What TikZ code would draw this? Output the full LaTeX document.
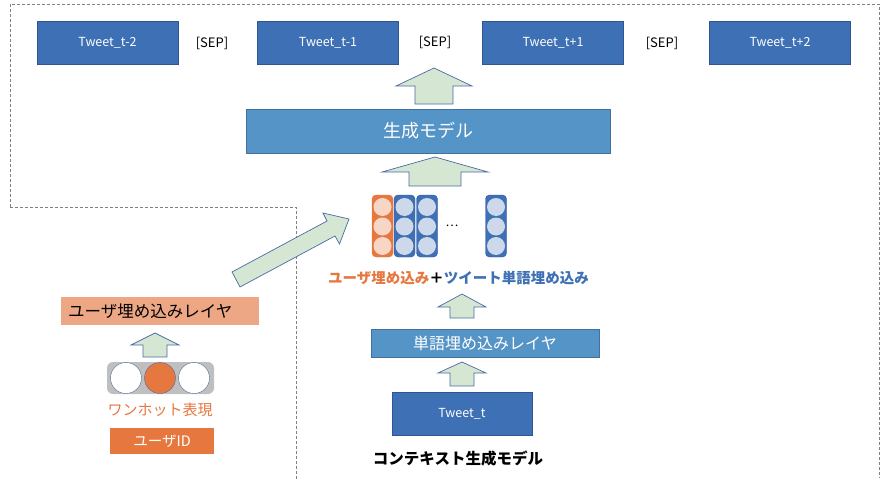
\documentclass[tikz,border=0pt]{standalone}
\usepackage{fontspec}
\setmainfont{Noto Sans CJK JP}
\usepackage{xcolor}
\usepackage{tikz}
\usetikzlibrary{positioning}
\definecolor{cTweet}{HTML}{3E70B5}
\definecolor{cTweetLine}{HTML}{2F5597}
\definecolor{cModel}{HTML}{5594C6}
\definecolor{cModelLine}{HTML}{41719C}
\definecolor{cArrow}{HTML}{D5E6D2}
\definecolor{cArrowLine}{HTML}{4A6AA5}
\definecolor{cOrange}{HTML}{E6773F}
\definecolor{cSalmon}{HTML}{EDA785}
\definecolor{cPale}{HTML}{F8D6C6}
\definecolor{cDot}{HTML}{CDD8EB}
\definecolor{cGray}{HTML}{BFBFBF}
\definecolor{cFrame}{HTML}{808080}
\tikzset{
  tweetbox/.style={draw=cTweetLine, fill=cTweet, text=white, line width=0.6pt,
    minimum width=141pt, minimum height=43pt, inner sep=0pt, font=\fontsize{12.5}{14}\selectfont},
  modelbox/.style={draw=cModelLine, fill=cModel, text=white, line width=0.6pt, inner sep=0pt},
  blkarrow/.style={draw=cArrowLine, fill=cArrow, line width=0.7pt, line join=miter},
  seplabel/.style={font=\fontsize{13}{15}\selectfont, inner sep=0pt},
  frameline/.style={draw=cFrame, line width=0.8pt, dash pattern=on 3pt off 2pt}
}
% block arrow pointing up: x, bottom, head base, tip, shaft half, head half
\newcommand{\uparr}[6]{\draw[blkarrow] (#1-#5,#2) -- (#1-#5,#3) -- (#1-#6,#3) -- (#1,#4)
  -- (#1+#6,#3) -- (#1+#5,#3) -- (#1+#5,#2) -- cycle;}

\begin{document}
\begin{tikzpicture}[x=1pt, y=-1pt]
  \useasboundingbox (0,0) rectangle (887,479);
  % dashed frame of the generation part
  \draw[frameline] (10,207) -- (10,4) -- (879,4) -- (879,478);
  \draw[frameline] (10,207) -- (296,207) -- (296,479);

  % output tweets
  \node[tweetbox] (tw2) at (107.5,42.5) {Tweet\_t-2};
  \node[tweetbox] (tw1) at (328,42.5) {Tweet\_t-1};
  \node[tweetbox] (tw3) at (553,42.5) {Tweet\_t+1};
  \node[tweetbox] (tw4) at (780,42.5) {Tweet\_t+2};
  \node[seplabel] (sep1) at (212,43) {[SEP]};
  \node[seplabel] (sep2) at (435,42) {[SEP]};
  \node[seplabel] (sep3) at (662,43) {[SEP]};

  \uparr{434}{104}{86}{68}{19}{38}
  \node[modelbox, minimum width=364pt, minimum height=44pt, font=\fontsize{18}{20}\selectfont] (gen) at (428,131) {生成モデル};
  \uparr{435}{186}{172}{157}{26}{53}

  % embedding vectors
  \draw[draw=cOrange, fill=cOrange, rounded corners=4pt] (372,195) rectangle (393,257);
  \foreach \y in {207,226.5,246}
    {\fill[cPale] (382.5,\y) circle (9);}
  \foreach \x in {404.5,427,496}
    {\draw[draw=cTweetLine, fill=cTweet, rounded corners=4pt] (\x-10.5,195) rectangle (\x+10.5,257);
     \foreach \y in {207,226.5,246}
       {\fill[cDot] (\x,\y) circle (9);}}
  \node[font=\fontsize{12}{14}\selectfont] (dots) at (452,226) {\dots};
  \node[font=\fontsize{14.5}{17}\selectfont\bfseries, inner sep=0pt] (emb) at (458.5,278)
    {\textcolor{cOrange}{ユーザ埋め込み}＋\textcolor{cTweet}{ツイート単語埋め込み}};

  \uparr{462}{318}{307}{294}{12}{24}
  \node[modelbox, minimum width=228pt, minimum height=28pt, font=\fontsize{16}{18}\selectfont] (wemb) at (485,343) {単語埋め込みレイヤ};
  \uparr{462}{386}{373}{362}{12}{24}
  \node[tweetbox, minimum width=140pt] (twt) at (462,413.5) {Tweet\_t};
  \node[font=\fontsize{15.5}{17}\selectfont\bfseries, inner sep=0pt] (ctx) at (458,459) {コンテキスト生成モデル};

  % user side
  \node[fill=cSalmon, minimum width=198pt, minimum height=28pt, inner sep=0pt] (uemb) at (160,311) {};
  \node[font=\fontsize{16.5}{19}\selectfont, anchor=west, inner sep=0pt] (uembtxt) at (68,311) {ユーザ埋め込みレイヤ};
  \draw[blkarrow] (232,272) -- (327,221) -- (323,213) -- (349,219) -- (339.5,244) -- (335,236) -- (240,287) -- cycle;
  \uparr{155}{357}{345}{333}{12}{24}
  \fill[cGray, rounded corners=6pt] (107,362) rectangle (214,394);
  \draw[draw=cArrowLine, fill=white] (126,378) circle (15.5);
  \draw[draw=cArrowLine, fill=cOrange] (160,378) circle (15.5);
  \draw[draw=cArrowLine, fill=white] (194,378) circle (15.5);
  \node[text=cOrange, font=\fontsize{15}{17}\selectfont, inner sep=0pt] (onehot) at (160,410) {ワンホット表現};
  \node[fill=cOrange, text=white, minimum width=104pt, minimum height=26pt, inner sep=0pt,
    font=\fontsize{14.5}{16}\selectfont] (uid) at (162,441) {ユーザID};
\end{tikzpicture}
\end{document}
